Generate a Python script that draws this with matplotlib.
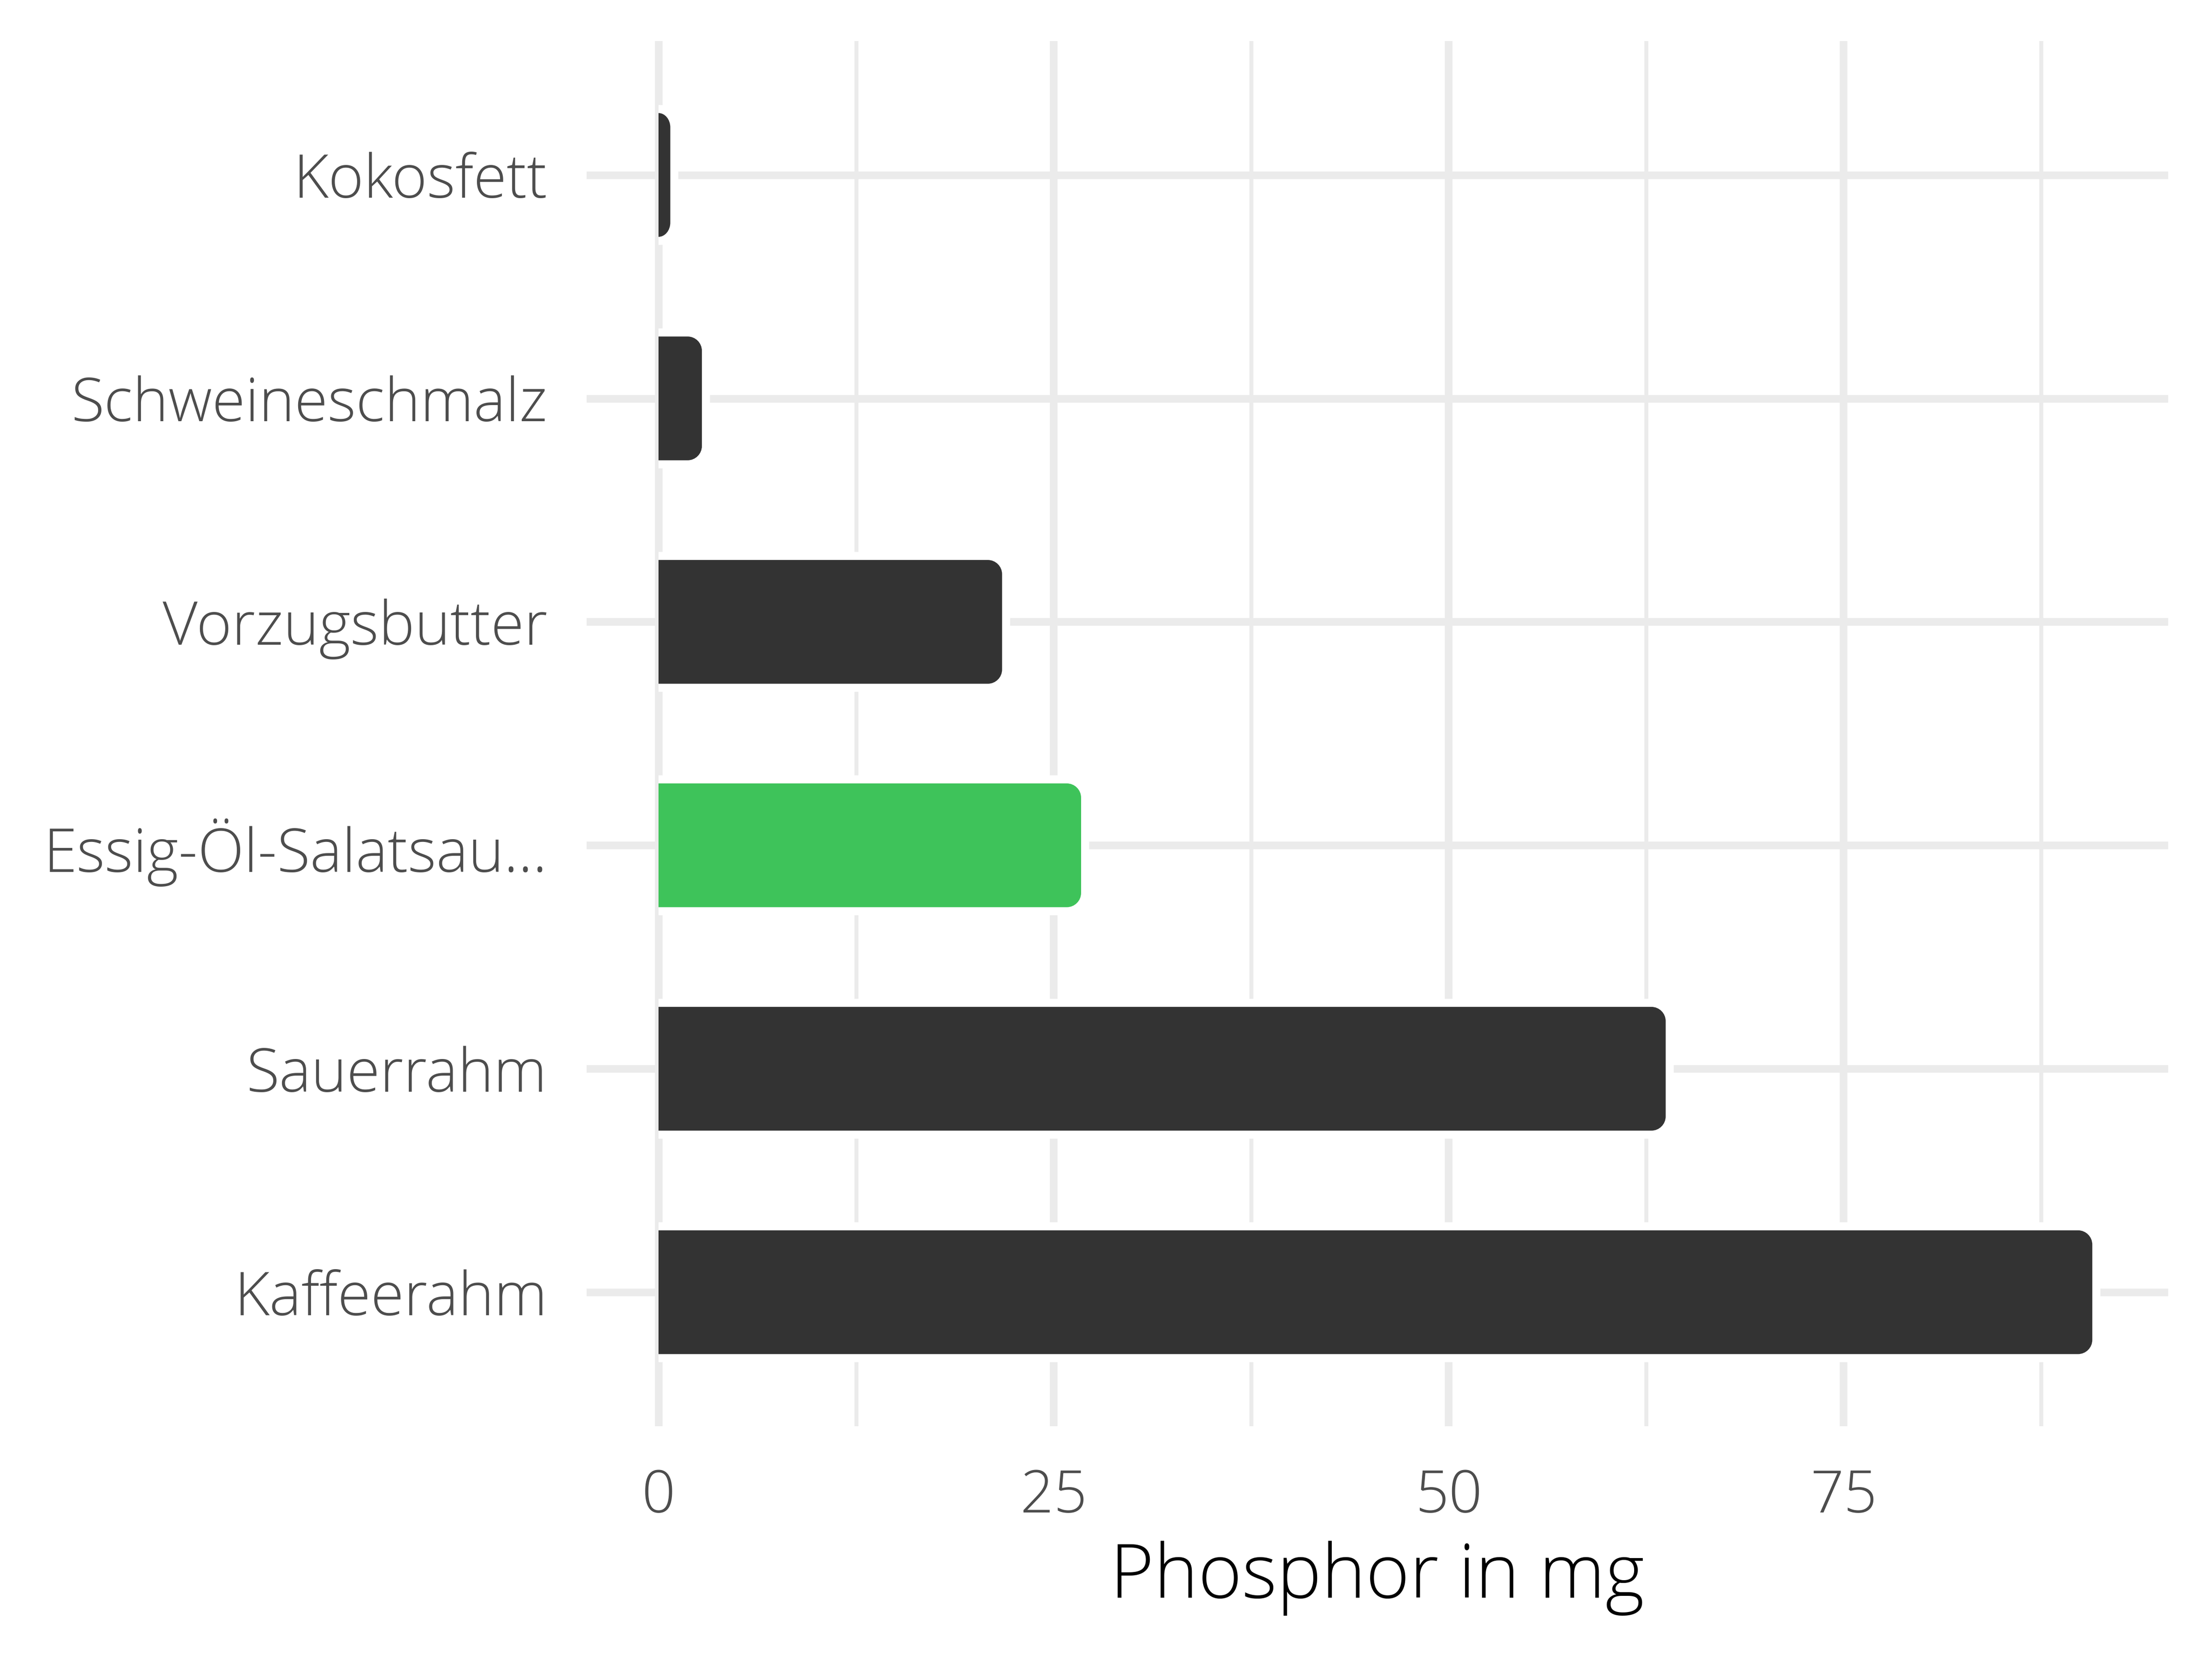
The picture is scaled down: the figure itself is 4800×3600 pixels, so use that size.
import matplotlib
matplotlib.use("Agg")
import matplotlib.pyplot as plt
from matplotlib.path import Path
from matplotlib.patches import PathPatch
import numpy as np

plt.rcParams['font.family'] = ['Open Sans', 'DejaVu Sans']

categories = ["Kokosfett", "Schweineschmalz", "Vorzugsbutter",
              "Essig-Öl-Salatsau...", "Sauerrahm", "Kaffeerahm"]
values = [1, 3, 22, 27, 64, 91]
colors = ["#333333", "#333333", "#333333", "#3EC35A", "#333333", "#333333"]
xticks = [0, 25, 50, 75]
xticklabels = ["0", "25", "50", "75"]
xlabel = "Phosphor in mg"

W, H = 4800, 3600
DPI = 300
fig = plt.figure(figsize=(W / DPI, H / DPI), dpi=DPI)
fig.patch.set_facecolor("white")
pos = [1273 / W, 1 - 3095 / H, (4705 - 1273) / W, (3095 - 88.7) / H]
ax = fig.add_axes(pos)

xmax = max(values)
xlo, xhi = -0.05 * xmax, xmax * 1.05
ax.set_xlim(xlo, xhi)
n = len(categories)
ax.set_ylim(n - 1 + 0.6, -0.6)

# pixel -> data conversions
ux = (xhi - xlo) / (pos[2] * W)
uy = (n - 1 + 1.2) / (pos[3] * H)

def px(v):
    return v * 72.0 / DPI

grid_c = "#EBEBEB"
ax.set_xticks(xticks)
ax.set_xticks([12.5, 37.5, 62.5, 87.5], minor=True)
ax.set_yticks(range(n))
ax.set_yticklabels(categories)
ax.set_xticklabels(xticklabels)
ax.grid(which="major", axis="x", color=grid_c, linewidth=px(16.5))
ax.grid(which="minor", axis="x", color=grid_c, linewidth=px(8.5))
ax.grid(which="major", axis="y", color=grid_c, linewidth=px(16.5))
ax.set_axisbelow(True)
for s in ax.spines.values():
    s.set_visible(False)
ax.tick_params(which="both", length=0)
ax.tick_params(axis="y", pad=px(85), labelsize=31.5, labelcolor="#4D4D4D")
ax.tick_params(axis="x", pad=px(90), labelsize=30.5, labelcolor="#4D4D4D")
for t in ax.get_xticklabels() + ax.get_yticklabels():
    t.set_fontweight("light")

K = 0.5523

def right_rounded(x0, x1, yc, hh, rx, ry):
    rx = min(rx, max(x1 - x0, 1e-6))
    ry = min(ry, hh)
    yt, yb = yc - hh, yc + hh
    verts = [
        (x0, yt),
        (x1 - rx, yt),
        (x1 - rx + K * rx, yt), (x1, yt + ry - K * ry), (x1, yt + ry),
        (x1, yb - ry),
        (x1, yb - ry + K * ry), (x1 - rx + K * rx, yb), (x1 - rx, yb),
        (x0, yb),
        (x0, yt),
    ]
    codes = [Path.MOVETO, Path.LINETO,
             Path.CURVE4, Path.CURVE4, Path.CURVE4,
             Path.LINETO,
             Path.CURVE4, Path.CURVE4, Path.CURVE4,
             Path.LINETO, Path.CLOSEPOLY]
    return Path(verts, codes)

bar_w = 0.59
d_px = 8.75
r_px = 31
for i, (v, c) in enumerate(zip(values, colors)):
    halo = right_rounded(0, v + d_px * ux, i, bar_w / 2 + d_px * uy,
                         (r_px + d_px) * ux, (r_px + d_px) * uy)
    ax.add_patch(PathPatch(halo, facecolor="white", edgecolor="none", zorder=2))
    fill = right_rounded(0, v - d_px * ux, i, bar_w / 2 - d_px * uy,
                         r_px * ux, r_px * uy)
    ax.add_patch(PathPatch(fill, facecolor=c, edgecolor="none", zorder=3))

fig.text((1273 + 4705) / 2 / W, 1 - 3425 / H, xlabel, ha="center", va="center",
         fontsize=39, color="black", fontweight="light")

fig.savefig("out.png", dpi=DPI, facecolor="white")
